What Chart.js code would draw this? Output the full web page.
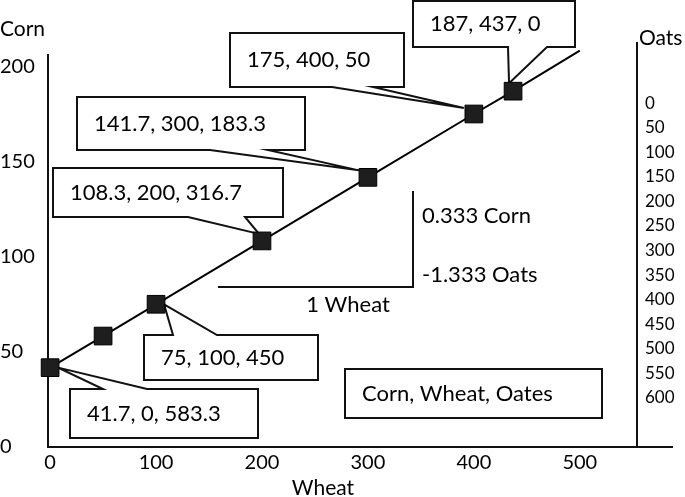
<!DOCTYPE html>
<html>
<head>
<meta charset="utf-8">
<script src="https://cdn.jsdelivr.net/npm/chart.js@4.4.0/dist/chart.umd.min.js"></script>
<style>
  html, body { margin: 0; padding: 0; background: #fff; }
  #wrap { width: 685px; height: 497px; }
</style>
</head>
<body>
<div id="wrap"><canvas id="grafico"></canvas></div>
<script>
// Datos
const wheat = [0, 50, 100, 200, 300, 400, 437, 500];
const corn = [41.7, 58.3, 75, 108.3, 141.7, 175, 187, 208.3];
const oats = [583.3, null, 450, 316.7, 183.3, 50, 0, null];
const conMarca = [true, true, true, true, true, true, true, false];

// Marcas de los ejes
const cornTicks = [0, 50, 100, 150, 200];
const wheatTicks = [0, 100, 200, 300, 400, 500];
const oatsTicks = [0, 50, 100, 150, 200, 250, 300, 350, 400, 450, 500, 550, 600];

// Globos con el texto "corn, wheat, oats" (posición en píxeles)
const globos = [
  { i: 6, box: [413, 1, 575, 47], lado: 'bottom', base: [508, 547], punta: [-4, -8] },
  { i: 5, box: [230, 33, 404, 87], lado: 'bottom', base: [332, 373], punta: [-10, -6] },
  { i: 4, box: [77, 97, 305, 150], lado: 'bottom', base: [210, 268], punta: [-9, -7] },
  { i: 3, box: [53, 168, 283, 217], lado: 'bottom', base: [188, 245], punta: [-3, -7] },
  { i: 2, box: [144, 335, 318, 380], lado: 'top', base: [173, 217], punta: [8, 0] },
  { i: 0, box: [70, 389, 258, 438], lado: 'top', base: [103, 147], punta: [8, 0] }
];

const fuente = 'Lato, sans-serif';
Chart.defaults.font.family = fuente;
Chart.defaults.color = '#000';

function dibujarGlobo(ctx, g, px, py, texto) {
  const [x1, y1, x2, y2] = g.box;
  ctx.beginPath();
  ctx.moveTo(x1, y1);
  if (g.lado === 'top') {
    ctx.lineTo(g.base[0], y1);
    ctx.lineTo(px, py);
    ctx.lineTo(g.base[1], y1);
  }
  ctx.lineTo(x2, y1);
  ctx.lineTo(x2, y2);
  if (g.lado === 'bottom') {
    ctx.lineTo(g.base[1], y2);
    ctx.lineTo(px, py);
    ctx.lineTo(g.base[0], y2);
  }
  ctx.lineTo(x1, y2);
  ctx.closePath();
  ctx.fillStyle = '#fff';
  ctx.fill();
  ctx.lineWidth = 2;
  ctx.strokeStyle = '#111';
  ctx.stroke();
  ctx.fillStyle = '#000';
  ctx.font = '22px ' + fuente;
  ctx.textAlign = 'left';
  ctx.textBaseline = 'middle';
  ctx.fillText(texto, x1 + 17, (y1 + y2) / 2);
}

const anotaciones = {
  id: 'anotaciones',
  beforeDatasetsDraw(chart) {
    const ctx = chart.ctx;
    const sx = chart.scales.x, sy = chart.scales.y;
    ctx.save();
    // globos con etiquetas
    for (const g of globos) {
      const px = sx.getPixelForValue(wheat[g.i]) + g.punta[0];
      const py = sy.getPixelForValue(corn[g.i]) + g.punta[1];
      dibujarGlobo(ctx, g, px, py, corn[g.i] + ', ' + wheat[g.i] + ', ' + oats[g.i]);
    }
    // caja de leyenda
    dibujarGlobo(ctx, { box: [345, 369, 602, 418], lado: 'none' }, 0, 0, 'Corn, Wheat, Oates');

    // triángulo de pendiente
    ctx.strokeStyle = '#111';
    ctx.lineWidth = 2;
    ctx.beginPath();
    ctx.moveTo(413, 191);
    ctx.lineTo(413, 288);
    ctx.moveTo(218, 287);
    ctx.lineTo(413, 287);
    ctx.stroke();
    ctx.fillStyle = '#000';
    ctx.font = '22px ' + fuente;
    ctx.textBaseline = 'middle';
    ctx.textAlign = 'left';
    ctx.fillText('0.333 Corn', 422, 216);
    ctx.fillText('-1.333 Oats', 422, 275);
    ctx.textAlign = 'center';
    ctx.fillText('1 Wheat', 348, 305);
    ctx.restore();
  },
  afterDraw(chart) {
    const ctx = chart.ctx;
    const a = chart.chartArea;
    ctx.save();
    // prolongación del eje x y del eje Oats
    ctx.strokeStyle = '#111';
    ctx.lineWidth = 2;
    ctx.beginPath();
    ctx.moveTo(a.right, a.bottom);
    ctx.lineTo(673, a.bottom);
    ctx.moveTo(a.right, a.top);
    ctx.lineTo(a.right, 42);
    ctx.stroke();
    // títulos de los ejes
    ctx.fillStyle = '#000';
    ctx.font = '21px ' + fuente;
    ctx.textBaseline = 'middle';
    ctx.textAlign = 'left';
    ctx.fillText('Corn', 0, 29);
    ctx.fillText('Oats', 639, 38);
    ctx.textAlign = 'center';
    ctx.fillText('Wheat', 323, 488);
    ctx.restore();
  }
};

const ctx = document.getElementById('grafico').getContext('2d');
const chart = new Chart(ctx, {
  type: 'line',
  data: {
    datasets: [{
      label: 'Corn',
      data: wheat.map((w, i) => ({ x: w, y: corn[i] })),
      borderColor: '#000',
      borderWidth: 2,
      tension: 0,
      clip: false,
      pointStyle: 'rect',
      pointRadius: conMarca.map(m => m ? 12.5 : 0),
      pointBackgroundColor: '#1e1e1e',
      pointBorderColor: '#000',
      pointBorderWidth: 1,
      yAxisID: 'y'
    }]
  },
  options: {
    responsive: true,
    maintainAspectRatio: false,
    animation: false,
    events: [],
    layout: { padding: { top: 55, left: 0, right: 0, bottom: 0 } },
    plugins: {
      legend: { display: false },
      tooltip: { enabled: false }
    },
    scales: {
      x: {
        type: 'linear',
        min: -2,
        max: 554,
        grid: { display: false, drawTicks: false },
        border: { display: true, color: '#111', width: 2 },
        afterBuildTicks: s => { s.ticks = wheatTicks.map(v => ({ value: v })); },
        afterFit: s => { s.height = 50; },
        ticks: { font: { size: 20 }, padding: 4 }
      },
      y: {
        type: 'linear',
        position: 'left',
        min: 0,
        max: 206,
        grid: { display: false, drawTicks: false },
        border: { display: true, color: '#111', width: 2 },
        afterBuildTicks: s => { s.ticks = cornTicks.map(v => ({ value: v })); },
        afterFit: s => { s.width = 48; },
        ticks: { font: { size: 20 }, crossAlign: 'far' }
      },
      y2: {
        type: 'linear',
        position: 'right',
        reverse: true,
        min: -98,
        max: 700,
        grid: { display: false, drawTicks: false },
        border: { display: true, color: '#111', width: 2 },
        afterBuildTicks: s => { s.ticks = oatsTicks.map(v => ({ value: v })); },
        afterFit: s => { s.width = 48; },
        ticks: { font: { size: 17 }, padding: 8 }
      }
    }
  },
  plugins: [anotaciones]
});
</script>
</body>
</html>
